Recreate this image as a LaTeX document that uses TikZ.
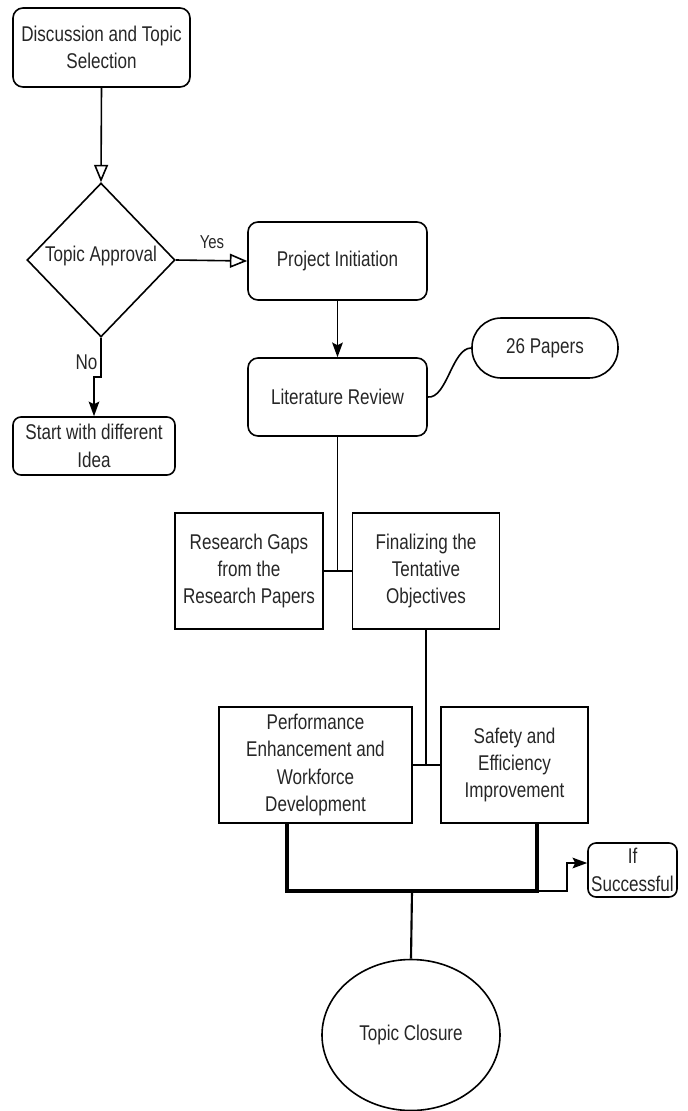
\documentclass[tikz,border=0pt]{standalone}
\usepackage{fontspec}
\setmainfont[FakeStretch=0.8]{Liberation Sans}
\usetikzlibrary{shapes.geometric, arrows.meta}
\begin{document}
\begin{tikzpicture}[x=0.75pt, y=-0.75pt,
  every node/.style={font=\fontsize{16pt}{20.5pt}\selectfont, text=black!85, align=center, inner sep=0pt},
  sz/.style 2 args={minimum width=#1*0.75pt, minimum height=#2*0.75pt},
  rbox/.style={draw, line width=1.2pt, rounded corners=7.5pt},
  sbox/.style={draw, line width=1.2pt},
  conn/.style={line width=1.2pt},
  thickconn/.style={line width=2.6pt},
  openarr/.style={-{Triangle[open, length=13pt, width=10.5pt]}},
  fillarr/.style={-{Stealth[length=11pt, width=8pt, inset=2pt]}},
]
\useasboundingbox (0,0) rectangle (687,1111);

% nodes
\node[rbox, sz={177}{79}] (disc) at (101.5,47.5) {Discussion and Topic\\Selection};
\node[draw, diamond, line width=1.2pt, sz={148}{154}] (appr) at (101,260) {};
\node (apprtxt) at (101,256) {Topic Approval};
\node[rbox, sz={179}{78}] (proj) at (337.5,261) {Project Initiation};
\node[rbox, sz={179}{78}] (lit) at (337.5,397) {Literature Review};
\node[rbox, sz={162}{58}, rounded corners=6pt] (start) at (94,446) {Start with different\\Idea};
\node[draw, line width=1.2pt, rounded corners=22pt, sz={146}{60}] (pap) at (545,348) {26 Papers};
\node[sbox, sz={148}{116}] (gaps) at (249,571) {Research Gaps\\from the\\Research Papers};
\node[sbox, sz={147}{116}] (fin) at (426,571) {Finalizing the\\Tentative\\Objectives};
\node[sbox, sz={193}{116}] (perf) at (315.5,765) {Performance\\Enhancement and\\Workforce\\Development};
\node[sbox, sz={147}{116}] (safe) at (514.5,765) {Safety and\\Efficiency\\Improvement};
\node[rbox, sz={89}{54}, rounded corners=6pt] (succ) at (632.5,870) {If\\Successful};
\node[draw, ellipse, line width=1.2pt, sz={178}{151}] (clos) at (411,1035) {Topic Closure};

% labels
\node[font=\fontsize{14pt}{16pt}\selectfont] (yes) at (212,242) {Yes};
\node (no) at (86.5,362) {No};

% connectors
\draw[conn, openarr] (disc.south) -- (appr.north);
\draw[conn, openarr] (appr.east) -- (proj.west);
\draw[conn, fillarr] (proj.south) -- (lit.north);
\draw[conn, fillarr] (appr.south) -- (101,377) -- (94,377) -- (start.north);
\draw[conn] (lit.east) .. controls (447,399) and (452,348) .. (pap.west);

\draw[conn] (lit.south) -- (lit.south |- gaps.east);
\draw[conn] (gaps.east) -- (fin.west);
\draw[conn] (fin.south) -- (fin.south |- perf.east);
\draw[conn] (perf.east) -- (safe.west);

\coordinate (pb) at (287,823);
\coordinate (sb) at (537,823);
\coordinate (jl) at (287,891);
\coordinate (jr) at (537,891);
\coordinate (jm) at (412,891);
\draw[thickconn, line join=miter] (pb) -- (jl) -- (jr) -- (sb);
\draw[line width=1.6pt] (jm) -- (clos.north);
\draw[conn, fillarr] (jr) -- ++(30,0) |- ([yshift=5.25pt]succ.west);
\end{tikzpicture}
\end{document}
